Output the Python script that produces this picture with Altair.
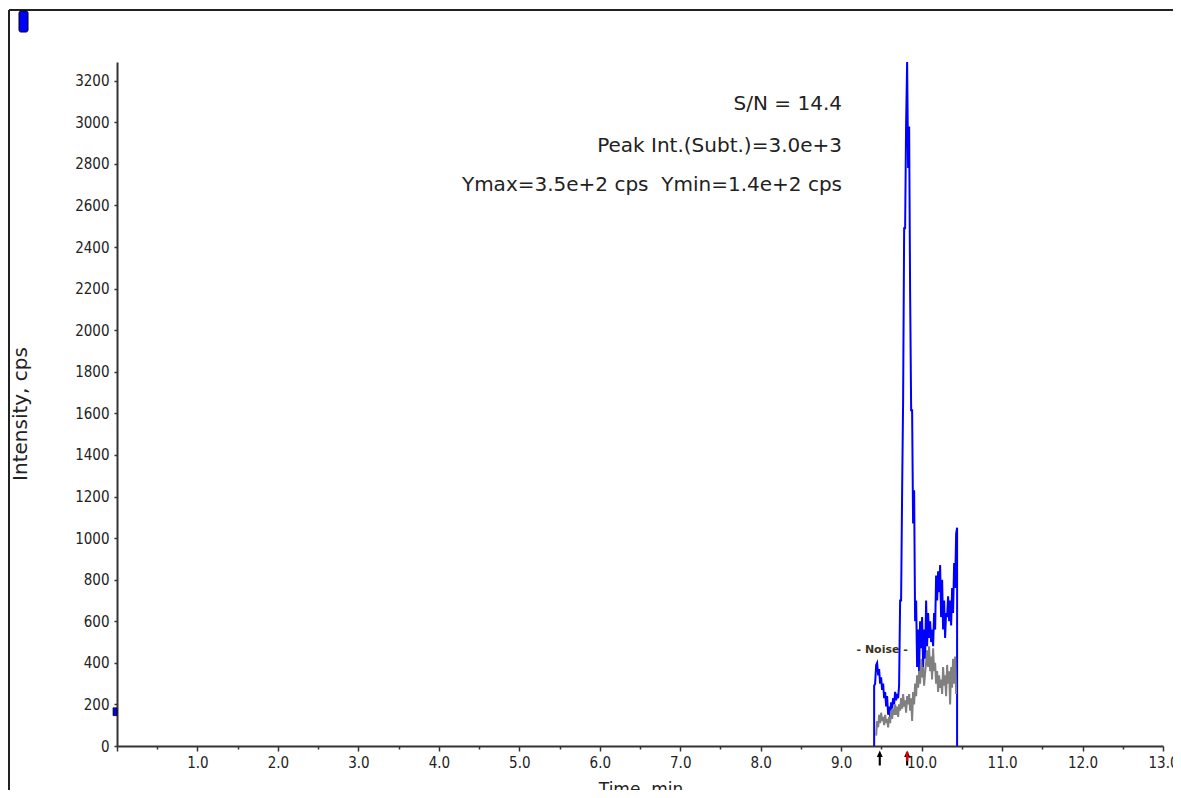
import altair as alt
import pandas as pd

# ---- data ----
blue_time = [9.410, 9.410, 9.422, 9.435, 9.447, 9.460, 9.472, 9.484, 9.497, 9.509, 9.522,
             9.534, 9.547, 9.559, 9.571, 9.584, 9.596, 9.609, 9.621, 9.634, 9.646, 9.658,
             9.671, 9.683, 9.696, 9.708, 9.720, 9.733, 9.745, 9.758, 9.770, 9.783, 9.795,
             9.807, 9.820, 9.832, 9.845, 9.857, 9.870, 9.882, 9.894, 9.907, 9.919, 9.932,
             9.944, 9.957, 9.969, 9.981, 9.994, 10.006, 10.019, 10.031, 10.043, 10.056,
             10.068, 10.081, 10.093, 10.106, 10.118, 10.130, 10.143, 10.155, 10.168, 10.180,
             10.193, 10.205, 10.217, 10.230, 10.242, 10.255, 10.267, 10.280, 10.292, 10.304,
             10.317, 10.329, 10.342, 10.354, 10.367, 10.379, 10.391, 10.404, 10.416, 10.429,
             10.441, 10.441]
blue_int = [0, 290, 300, 390, 400, 340, 370, 300, 330, 270, 300,
            230, 260, 190, 240, 150, 190, 140, 210, 180, 230, 200,
            260, 220, 250, 230, 290, 700, 700, 1230, 1660, 2490, 2490,
            2985, 3290, 2780, 2980, 2190, 1615, 1615, 1070, 1230, 600, 700,
            380, 560, 360, 600, 470, 620, 380, 560, 420, 700,
            480, 640, 520, 600, 500, 560, 480, 640, 560, 820,
            700, 840, 740, 870, 620, 800, 560, 700, 520, 640,
            620, 720, 600, 700, 580, 760, 640, 880, 760, 1020,
            1050, 0]

gray_time = [9.435, 9.447, 9.460, 9.472, 9.484, 9.497, 9.509, 9.522, 9.534, 9.547, 9.559,
             9.571, 9.584, 9.596, 9.609, 9.621, 9.634, 9.646, 9.658, 9.671, 9.683, 9.696,
             9.708, 9.720, 9.733, 9.745, 9.758, 9.770, 9.783, 9.795, 9.807, 9.820, 9.832,
             9.845, 9.857, 9.870, 9.882, 9.894, 9.907, 9.919, 9.932, 9.944, 9.957, 9.969,
             9.981, 9.994, 10.006, 10.019, 10.031, 10.043, 10.056, 10.068, 10.081, 10.093,
             10.106, 10.118, 10.130, 10.143, 10.155, 10.168, 10.180, 10.193, 10.205, 10.217,
             10.230, 10.242, 10.255, 10.267, 10.280, 10.292, 10.304, 10.317, 10.329, 10.342,
             10.354, 10.367, 10.379, 10.391, 10.404, 10.416, 10.429]
gray_int = [50, 120, 90, 150, 110, 160, 120, 140, 100, 150, 110,
            130, 90, 140, 110, 170, 130, 180, 150, 200, 150, 190,
            140, 200, 170, 230, 180, 250, 190, 220, 160, 240, 200,
            250, 170, 230, 120, 260, 200, 300, 240, 340, 280, 360,
            300, 420, 330, 380, 290, 350, 400, 460, 380, 480,
            360, 430, 320, 470, 360, 400, 300, 360, 260, 340,
            280, 320, 250, 380, 290, 340, 240, 390, 300, 360,
            200, 380, 280, 420, 300, 430, 250]

x_ticks = [0, 0.5, 1, 1.5, 2, 2.5, 3, 3.5, 4, 4.5, 5, 5.5, 6, 6.5, 7, 7.5, 8, 8.5,
           9, 9.5, 10, 10.5, 11, 11.5, 12, 12.5, 13]
y_ticks = [0, 200, 400, 600, 800, 1000, 1200, 1400, 1600, 1800, 2000, 2200, 2400,
           2600, 2800, 3000, 3200]

annotations = ["S/N = 14.4", "Peak Int.(Subt.)=3.0e+3",
               "Ymax=3.5e+2 cps \u00a0Ymin=1.4e+2 cps"]
noise_label = ["- Noise -"]
noise_pos = [9.51]
noise_val = [462]
marker_times = [9.48, 9.82]
left_marker_val = [165]

FONT = "DejaVu Sans Condensed"
FONT2 = "DejaVu Sans"
W, H = 1046, 684

blue_df = pd.DataFrame({"t": blue_time, "v": blue_int, "o": list(range(len(blue_time)))})
gray_df = pd.DataFrame({"t": gray_time, "v": gray_int, "o": list(range(len(gray_time)))})

xscale = alt.Scale(domain=[0, 13], nice=False, zero=False)
yscale = alt.Scale(domain=[0, 3290], nice=False)

xaxis = alt.Axis(values=x_ticks, title=None, domainColor="#333", domainWidth=2,
                 tickColor="#333", tickWidth=1.5,
                 tickSize=alt.ExprRef("datum.value % 1 === 0 ? 5 : 3"),
                 labelExpr="datum.value % 1 === 0 && datum.value > 0 ? format(datum.value, '.1f') : ''",
                 labelFont=FONT, labelFontSize=15, labelColor="#222", labelPadding=4,
                 grid=False, labelFlush=False, labelOverlap=False)
yaxis = alt.Axis(values=y_ticks, title=None, format="d", domainColor="#333", domainWidth=2,
                 tickColor="#333", tickWidth=1.5, tickSize=3,
                 labelFont=FONT, labelFontSize=15, labelColor="#222", labelPadding=5,
                 grid=False, labelFlush=False, labelOverlap=False)

blue = alt.Chart(blue_df).mark_line(color="#0000ff", strokeWidth=2, clip=True).encode(
    x=alt.X("t:Q", scale=xscale, axis=xaxis),
    y=alt.Y("v:Q", scale=yscale, axis=yaxis),
    order="o:Q",
)
gray = alt.Chart(gray_df).mark_line(color="#808080", strokeWidth=2).encode(
    x=alt.X("t:Q", scale=xscale),
    y=alt.Y("v:Q", scale=yscale),
    order="o:Q",
)

ann_y = [42, 84, 123]
ann_layers = [
    alt.Chart(pd.DataFrame({"text": [txt]})).mark_text(
        align="right", baseline="middle", font=FONT2, fontSize=20, color="#222").encode(
        text="text:N", x=alt.value(725), y=alt.value(yy))
    for txt, yy in zip(annotations, ann_y)
]

noise_df = pd.DataFrame({"t": noise_pos, "v": noise_val, "text": noise_label})
noise = alt.Chart(noise_df).mark_text(font=FONT2, fontSize=11, fontWeight="bold",
                                      color="#3a3320", baseline="middle").encode(
    x=alt.X("t:Q", scale=xscale), y=alt.Y("v:Q", scale=yscale), text="text:N")

mk_df = pd.DataFrame({"t": marker_times})
arrows = alt.Chart(mk_df).mark_point(shape="arrow", filled=True, size=220, color="#000",
                                     strokeWidth=1, opacity=1).encode(
    x=alt.X("t:Q", scale=xscale), y=alt.value(H + 12))
red_df = pd.DataFrame({"t": [marker_times[1]]})
red = alt.Chart(red_df).mark_rule(color="#e00000", strokeWidth=2.5).encode(
    x=alt.X("t:Q", scale=xscale), y=alt.value(H + 6), y2=alt.value(H + 15))

lm_df = pd.DataFrame({"v": left_marker_val})
left_marker = alt.Chart(lm_df).mark_point(shape="M-0.5,-1L0.5,-1L0.5,1L-0.5,1Z", filled=True,
                                          size=60, color="#0000ff", stroke="#000",
                                          strokeWidth=0.8, opacity=1).encode(
    x=alt.value(-2), y=alt.Y("v:Q", scale=yscale))

top_marker = alt.Chart(pd.DataFrame({"a": [0]})).mark_rect(
    color="#0000ff", stroke="#000", strokeWidth=1, cornerRadius=2).encode(
    x=alt.value(19 - 117), x2=alt.value(28 - 117), y=alt.value(11 - 62), y2=alt.value(32 - 62))

frame_top = alt.Chart(pd.DataFrame({"a": [0]})).mark_rule(color="#222", strokeWidth=2).encode(
    x=alt.value(9 - 117), x2=alt.value(1200 - 117), y=alt.value(10 - 62))
frame_left = alt.Chart(pd.DataFrame({"a": [0]})).mark_rule(color="#222", strokeWidth=2).encode(
    x=alt.value(9 - 117), y=alt.value(10 - 62), y2=alt.value(820 - 62))

ytitle = alt.Chart(pd.DataFrame({"text": ["Intensity, cps"]})).mark_text(
    angle=270, font=FONT2, fontSize=20, color="#222", baseline="middle").encode(
    text="text:N", x=alt.value(21 - 117), y=alt.value(414 - 62))
xtitle = alt.Chart(pd.DataFrame({"text": ["Time, min"]})).mark_text(
    font=FONT2, fontSize=17, color="#222", baseline="middle").encode(
    text="text:N", x=alt.value(641 - 117), y=alt.value(790 - 62))

chart = alt.layer(frame_top, frame_left, top_marker, blue, gray, noise, arrows, red,
                  left_marker, *ann_layers, ytitle, xtitle).properties(
    width=W, height=H,
    background="white",
    autosize=alt.AutoSizeParams(type="none"),
    padding={"left": 109, "top": 54, "right": 10, "bottom": 44},
).configure_view(stroke=None)

chart.save("out.html", embed_options={"renderer": "svg", "actions": False})
